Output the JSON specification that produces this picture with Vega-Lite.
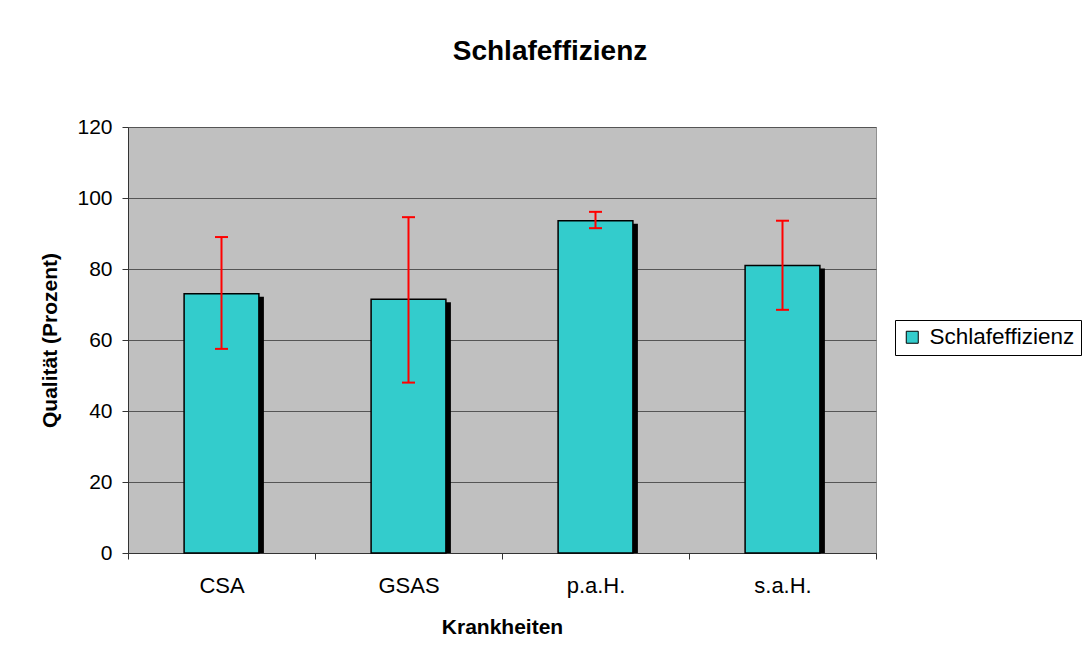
{
  "$schema": "https://vega.github.io/schema/vega-lite/v6.json",
  "width": 748,
  "height": 426,
  "autosize": "none",
  "padding": {"left": 128, "top": 127, "right": 209, "bottom": 111},
  "background": "white",
  "title": {
    "text": "Schlafeffizienz",
    "font": "Liberation Sans",
    "fontSize": 28,
    "fontWeight": "bold",
    "color": "black",
    "anchor": "middle",
    "dx": 48,
    "offset": 50
  },
  "config": {
    "font": "Liberation Sans",
    "view": {"stroke": "#909090", "fill": "#C0C0C0"}
  },
  "data": {
    "values": [
      {"k": "CSA", "v": 73.0, "lo": 57.5, "hi": 89.0, "s": "Schlafeffizienz"},
      {"k": "GSAS", "v": 71.5, "lo": 48.0, "hi": 94.6, "s": "Schlafeffizienz"},
      {"k": "p.a.H.", "v": 93.6, "lo": 91.5, "hi": 96.1, "s": "Schlafeffizienz"},
      {"k": "s.a.H.", "v": 81.0, "lo": 68.5, "hi": 93.6, "s": "Schlafeffizienz"}
    ]
  },
  "encoding": {
    "x": {
      "field": "k",
      "type": "nominal",
      "sort": null,
      "scale": {"paddingInner": 0, "paddingOuter": 0},
      "axis": {
        "title": "Krankheiten",
        "titleFontSize": 21,
        "titleFontWeight": "bold",
        "titleColor": "black",
        "titlePadding": 20,
        "labelAngle": 0,
        "labelFontSize": 22,
        "labelColor": "black",
        "labelPadding": 16,
        "tickBand": "extent",
        "tickSize": 6,
        "tickColor": "#333333",
        "domainColor": "#333333",
        "grid": false
      }
    }
  },
  "layer": [
    {
      "mark": {"type": "bar", "color": "black", "width": {"band": 0.4}, "xOffset": 5, "yOffset": 3, "clip": true},
      "encoding": {
        "y": {
          "field": "v",
          "type": "quantitative",
          "scale": {"domain": [0, 120], "nice": false},
          "axis": {
            "title": "Qualität (Prozent)",
            "titleFontSize": 21,
            "titleFontWeight": "bold",
            "titleColor": "black",
            "titlePadding": 16,
            "values": [0, 20, 40, 60, 80, 100, 120],
            "labelFontSize": 21,
            "labelColor": "black",
            "labelPadding": 10,
            "tickSize": 6,
            "tickColor": "#333333",
            "domainColor": "#333333",
            "grid": true,
            "gridColor": "#555555",
            "gridWidth": 1
          }
        }
      }
    },
    {
      "mark": {"type": "bar", "width": {"band": 0.4}, "stroke": "black", "strokeWidth": 1.5},
      "encoding": {
        "y": {"field": "v", "type": "quantitative"},
        "color": {
          "field": "s",
          "type": "nominal",
          "scale": {"domain": ["Schlafeffizienz"], "range": ["#33CCCC"]},
          "legend": {
            "title": null,
            "orient": "none",
            "legendX": 767,
            "legendY": 193,
            "fillColor": "white",
            "strokeColor": "black",
            "padding": 6,
            "symbolType": "square",
            "symbolSize": 144,
            "symbolStrokeColor": "black",
            "symbolStrokeWidth": 1,
            "symbolOpacity": 1,
            "labelFontSize": 22.5,
            "labelColor": "black",
            "labelOffset": 6
          }
        }
      }
    },
    {
      "mark": {"type": "rule", "color": "#FF0000", "strokeWidth": 2},
      "encoding": {
        "y": {"field": "lo", "type": "quantitative"},
        "y2": {"field": "hi"}
      }
    },
    {
      "mark": {"type": "tick", "color": "#FF0000", "size": 13, "thickness": 2, "opacity": 1},
      "encoding": {
        "y": {"field": "lo", "type": "quantitative"}
      }
    },
    {
      "mark": {"type": "tick", "color": "#FF0000", "size": 13, "thickness": 2, "opacity": 1},
      "encoding": {
        "y": {"field": "hi", "type": "quantitative"}
      }
    }
  ]
}
